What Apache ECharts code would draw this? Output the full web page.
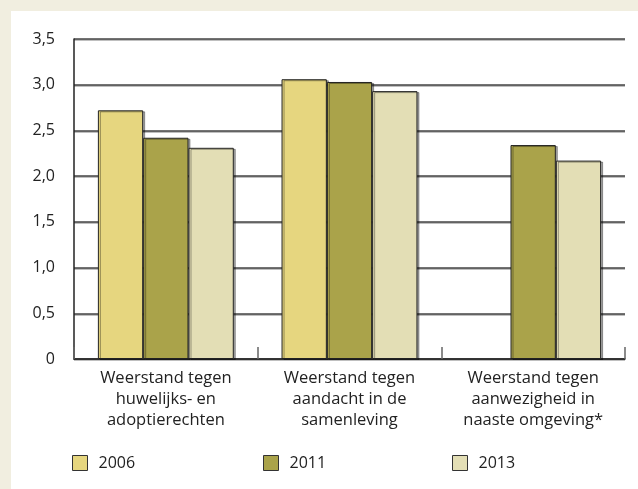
<!DOCTYPE html>
<html>
<head>
<meta charset="utf-8">
<script src="https://cdn.jsdelivr.net/npm/echarts@6/dist/echarts.min.js"></script>
<style>
  body { margin: 0; background: #f1eee0; }
  #chart { position: absolute; left: 11px; top: 11px; width: 627px; height: 478px; background: #fff; }
</style>
</head>
<body>
<div id="chart"></div>
<script>
const categories = [
  "Weerstand tegen\nhuwelijks- en\nadoptierechten",
  "Weerstand tegen\naandacht in de\nsamenleving",
  "Weerstand tegen\naanwezigheid in\nnaaste omgeving*"
]
const years = ["2006", "2011", "2013"]
const v2006 = [2.72, 3.06, null]
const v2011 = [2.42, 3.03, 2.34]
const v2013 = [2.31, 2.93, 2.17]
const yLabels = ["0", "0,5", "1,0", "1,5", "2,0", "2,5", "3,0", "3,5"]

const colors = ["#e6d67f", "#aaa34a", "#e3deb5"]
const font = "'Open Sans', 'Noto Sans', sans-serif"

let myChart = echarts.init(document.getElementById("chart"))

function bar(name, data, color) {
  return {
    name: name,
    type: "bar",
    data: data,
    barGap: 0,
    barCategoryGap: "26%",
    itemStyle: {
      color: color,
      borderColor: "#222",
      borderWidth: 1,
      shadowColor: "rgba(0,0,0,0.35)",
      shadowOffsetX: 2,
      shadowOffsetY: 1,
      shadowBlur: 0,
    },
  }
}

function legend(i, left) {
  return {
    data: [years[i]],
    left: left,
    top: 444,
    padding: 0,
    itemWidth: 15,
    itemHeight: 15,
    icon: "rect",
    itemStyle: { borderColor: "#333", borderWidth: 1 },
    textStyle: { fontFamily: font, fontSize: 16, color: "#222", padding: [0, 0, 0, 6] },
  }
}

myChart.setOption({
  animation: false,
  grid: { left: 63, right: 13, top: 28, bottom: 130 },
  xAxis: {
    type: "category",
    data: categories,
    axisLine: { lineStyle: { color: "#222", width: 1.5 } },
    axisTick: { show: true, inside: true, interval: 0, length: 12, lineStyle: { color: "#666", width: 1.5 } },
    axisLabel: { interval: 0, fontFamily: font, fontSize: 16.5, color: "#222", lineHeight: 21, margin: 9 },
  },
  yAxis: {
    type: "value",
    min: 0,
    max: 3.5,
    interval: 0.5,
    axisLine: { show: true, lineStyle: { color: "#222", width: 1.5 } },
    axisTick: { show: false },
    axisLabel: {
      fontFamily: font,
      fontSize: 16,
      color: "#222",
      margin: 19,
      formatter: (v) => yLabels[Math.round(v * 2)],
    },
    splitLine: {
      lineStyle: { color: "#444", width: 1.5, shadowColor: "#aaa", shadowOffsetY: 1, shadowBlur: 0 },
    },
  },
  legend: [legend(0, 61), legend(1, 252), legend(2, 441)],
  series: [
    bar(years[0], v2006, colors[0]),
    bar(years[1], v2011, colors[1]),
    bar(years[2], v2013, colors[2]),
  ],
})
</script>
</body>
</html>
